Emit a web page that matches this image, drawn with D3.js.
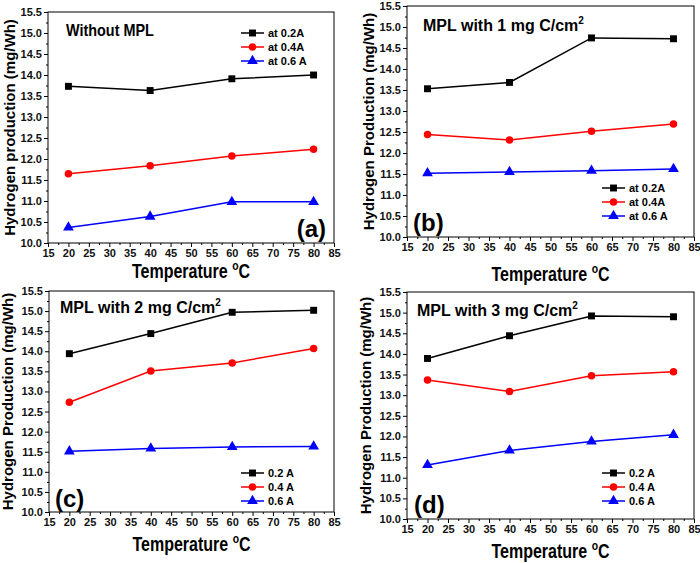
<!DOCTYPE html>
<html lang="en">
<head>
<meta charset="UTF-8">
<title>Hydrogen production vs temperature</title>
<script src="https://d3js.org/d3.v7.min.js"></script>
<style>
    body { margin: 0; background: #fff; }
    svg text { font-family: "Liberation Sans", Arial, sans-serif; font-weight: bold; }
    .frame { fill: none; stroke: #000; stroke-width: 1; }
</style>
</head>
<body>
<svg id="chart" width="700" height="563"></svg>
<script>
    // temperatures (x)
    const temps = [20, 40, 60, 80];
    const xTicks = [15, 20, 25, 30, 35, 40, 45, 50, 55, 60, 65, 70, 75, 80, 85];
    const yTicks = [10.0, 10.5, 11.0, 11.5, 12.0, 12.5, 13.0, 13.5, 14.0, 14.5, 15.0, 15.5];

    // values, one array per current
    const noMpl_02 = [13.73, 13.63, 13.91, 14.00];
    const noMpl_04 = [11.65, 11.84, 12.07, 12.23];
    const noMpl_06 = [10.37, 10.63, 10.98, 10.98];

    const mpl1_02 = [13.53, 13.68, 14.74, 14.72];
    const mpl1_04 = [12.44, 12.31, 12.52, 12.69];
    const mpl1_06 = [11.52, 11.55, 11.58, 11.62];

    const mpl2_02 = [13.94, 14.44, 14.97, 15.02];
    const mpl2_04 = [12.73, 13.51, 13.71, 14.07];
    const mpl2_06 = [11.51, 11.58, 11.62, 11.63];

    const mpl3_02 = [13.89, 14.44, 14.92, 14.90];
    const mpl3_04 = [13.37, 13.09, 13.47, 13.57];
    const mpl3_06 = [11.31, 11.66, 11.88, 12.04];

    const legendA = ["at 0.2A", "at 0.4A", "at 0.6 A"];
    const legendB = ["0.2 A", "0.4 A", "0.6 A"];
    const colors = ["#000000", "#ff0000", "#0000ff"];
    const shapes = [d3.symbolSquare, d3.symbolCircle, d3.symbolTriangle];
    const shapeSize = [48, 44, 50];

    const panels = [
        { box: [48, 334, 12, 243], title: "Without MPL", sup: "", tx: 66, ty: 36, tScale: 0.9, tag: "(a)", tagX: 326, tagY: 237, tagAnchor: "end",
          yLabel: "Hydrogen production (mg/Wh)", yLabelX: 15, xLabelY: 278,
          series: [noMpl_02, noMpl_04, noMpl_06], legend: legendA, lx: 241, ly: 33 },
        { box: [407, 694, 6, 237], title: "MPL with 1 mg C/cm", sup: "2", tx: 423, ty: 31, tScale: 1, tag: "(b)", tagX: 413, tagY: 231, tagAnchor: "start",
          yLabel: "Hydrogen Production (mg/Wh)", yLabelX: 374, xLabelY: 281,
          series: [mpl1_02, mpl1_04, mpl1_06], legend: legendA, lx: 602, ly: 188 },
        { box: [49, 334, 291, 512], title: "MPL with 2 mg C/cm", sup: "2", tx: 60, ty: 313, tScale: 1, tag: "(c)", tagX: 55, tagY: 507, tagAnchor: "start",
          yLabel: "Hydrogen Production (mg/Wh)", yLabelX: 13, xLabelY: 551,
          series: [mpl2_02, mpl2_04, mpl2_06], legend: legendB, lx: 241, ly: 473 },
        { box: [407, 694, 292, 519], title: "MPL with 3 mg C/cm", sup: "2", tx: 417, ty: 316, tScale: 1, tag: "(d)", tagX: 414, tagY: 513, tagAnchor: "start",
          yLabel: "Hydrogen Production (mg/Wh)", yLabelX: 371, xLabelY: 558,
          series: [mpl3_02, mpl3_04, mpl3_06], legend: legendB, lx: 602, ly: 473 }
    ];

    const svg = d3.select("#chart");

    panels.forEach(p => {
        const [left, right, top, bottom] = p.box;
        const x = d3.scaleLinear().domain([15, 85]).range([left, right]);
        const y = d3.scaleLinear().domain([10, 15.5]).range([bottom, top]);
        const g = svg.append("g");

        // minor ticks
        const xMinor = d3.range(17.5, 85, 5);
        const yMinor = d3.range(10.25, 15.5, 0.5);

        g.append("g").attr("transform", `translate(0,${bottom})`)
            .call(d3.axisBottom(x).tickValues(xTicks).tickFormat(d3.format("d")).tickSize(4).tickPadding(2));
        g.append("g").attr("transform", `translate(0,${bottom})`)
            .call(d3.axisBottom(x).tickValues(xMinor).tickFormat("").tickSize(2));
        g.append("g").attr("transform", `translate(${left},0)`)
            .call(d3.axisLeft(y).tickValues(yTicks).tickFormat(d3.format(".1f")).tickSize(4).tickPadding(2));
        g.append("g").attr("transform", `translate(${left},0)`)
            .call(d3.axisLeft(y).tickValues(yMinor).tickFormat("").tickSize(2));
        g.selectAll(".tick text").attr("font-size", 11).attr("fill", "#111");
        g.selectAll(".domain").remove();

        g.append("rect").attr("class", "frame")
            .attr("x", left).attr("y", top)
            .attr("width", right - left).attr("height", bottom - top);

        // series
        p.series.forEach((vals, i) => {
            const pts = temps.map((t, k) => [t, vals[k]]);
            g.append("path")
                .datum(pts)
                .attr("fill", "none")
                .attr("stroke", colors[i])
                .attr("stroke-width", 1.5)
                .attr("d", d3.line().x(d => x(d[0])).y(d => y(d[1])));
            g.selectAll(null).data(pts).enter().append("path")
                .attr("transform", d => `translate(${x(d[0])},${y(d[1])})`)
                .attr("d", d3.symbol().type(shapes[i]).size(shapeSize[i]))
                .attr("fill", colors[i]);
        });

        // legend
        p.legend.forEach((name, i) => {
            const ly = p.ly + i * 14;
            g.append("line").attr("x1", p.lx).attr("x2", p.lx + 23)
                .attr("y1", ly).attr("y2", ly)
                .attr("stroke", colors[i]).attr("stroke-width", 1.5);
            g.append("path")
                .attr("transform", `translate(${p.lx + 11.5},${ly})`)
                .attr("d", d3.symbol().type(shapes[i]).size(shapeSize[i]))
                .attr("fill", colors[i]);
            g.append("text").attr("x", p.lx + 27).attr("y", ly + 4)
                .attr("font-size", 11).text(name);
        });

        // title inside plot
        const t = g.append("text")
            .attr("transform", `translate(${p.tx},${p.ty}) scale(${p.tScale},1)`)
            .attr("font-size", 16).text(p.title);
        if (p.sup) t.append("tspan").attr("font-size", 10).attr("dy", -7).text(p.sup);

        // panel tag
        g.append("text").attr("x", p.tagX).attr("y", p.tagY)
            .attr("text-anchor", p.tagAnchor).attr("font-size", 24).text(p.tag);

        // x axis label (original font is condensed)
        const xl = g.append("text")
            .attr("transform", `translate(${(left + right) / 2},${p.xLabelY}) scale(0.8,1)`)
            .attr("text-anchor", "middle").attr("font-size", 20).text("Temperature ");
        xl.append("tspan").attr("font-size", 13).attr("dy", -8).text("o");
        xl.append("tspan").attr("dy", 8).text("C");

        // y axis label
        g.append("text")
            .attr("transform", `translate(${p.yLabelX},${(top + bottom) / 2}) rotate(-90)`)
            .attr("text-anchor", "middle").attr("font-size", 15).text(p.yLabel);
    });
</script>
</body>
</html>
